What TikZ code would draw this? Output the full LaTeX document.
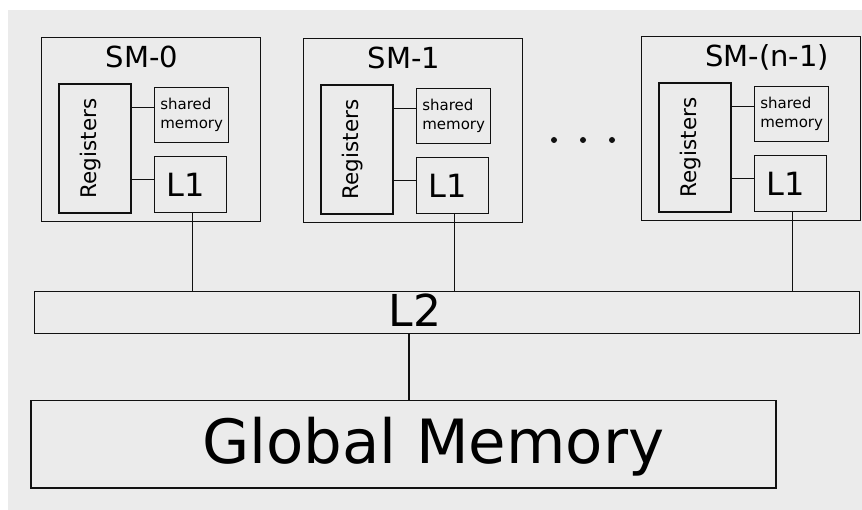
\documentclass[tikz,border=0pt]{standalone}
\usepackage{fontspec}
\setmainfont{DejaVu Sans}
\definecolor{panel}{HTML}{EBEBEB}
\definecolor{ink}{HTML}{111111}

\begin{document}
\begin{tikzpicture}[x=1pt,y=-1pt,
  box/.style={draw=ink,line width=1.3pt,inner sep=0pt,anchor=north west},
  smbox/.style={box,minimum width=219pt,minimum height=184pt},
  regbox/.style={box,line width=2pt,minimum width=72pt,minimum height=129pt,font=\fontsize{21.5}{26}\selectfont},
  membox/.style={box,minimum width=74pt,minimum height=55pt,align=left,font=\fontsize{15}{19}\selectfont},
  cachebox/.style={box,minimum width=72pt,minimum height=56pt,font=\fontsize{32}{38}\selectfont},
  wire/.style={draw=ink,line width=1.2pt}]
  \useasboundingbox (0,0) rectangle (862,510);
  \fill[white] (0,0) rectangle (862,510);
  \fill[panel] (8,10) rectangle (862,510);

  % shared L2 and global memory
  \node[box,minimum width=825pt,minimum height=42pt,
    label={[font=\fontsize{44}{50}\selectfont,xshift=-32pt,yshift=2pt]center:L2}] (l2) at (34,291) {};
  \node[box,line width=1.5pt,minimum width=745pt,minimum height=87pt,
    label={[font=\fontsize{61}{70}\selectfont,xshift=30pt,yshift=-2pt]center:Global Memory}] (gm) at (30,400) {};
  \draw[wire,line width=2.5pt] ([xshift=5.5pt]gm.north) -- ([xshift=5.5pt]gm.north |- l2.south);

  % one block per SM
  \foreach \i/\sx/\sy/\lx/\smname in {0/41/37/142/SM-0,1/303/38/404/SM-1,2/641/36/767/SM-(n-1)}{
    \node[smbox] (sm\i) at (\sx,\sy) {};
    \node[anchor=base,font=\fontsize{29}{35}\selectfont] (smlabel\i) at (\lx,\sy+30.5) {\smname};
    \node[regbox] (reg\i) at (\sx+17,\sy+46) {\rotatebox{90}{Registers}\hspace*{8pt}};
    \node[membox] (sh\i) at (\sx+113,\sy+50) {shared\\memory};
    \node[cachebox] (l1\i) at (\sx+113,\sy+119) {L1\hspace*{10pt}};
    \draw[wire] ([yshift=8pt]sh\i.west) -- ([yshift=8pt]sh\i.west -| reg\i.east);
    \draw[wire] ([yshift=5pt]l1\i.west) -- ([yshift=5pt]l1\i.west -| reg\i.east);
    \draw[wire] ([xshift=2pt]l1\i.south) -- ([xshift=2pt]l1\i.south |- l2.north);
  }

  % dots between SM-1 and SM-(n-1)
  \foreach \dx in {554,583,612}
    \fill[ink] (\dx,140) circle (3pt);
\end{tikzpicture}
\end{document}
